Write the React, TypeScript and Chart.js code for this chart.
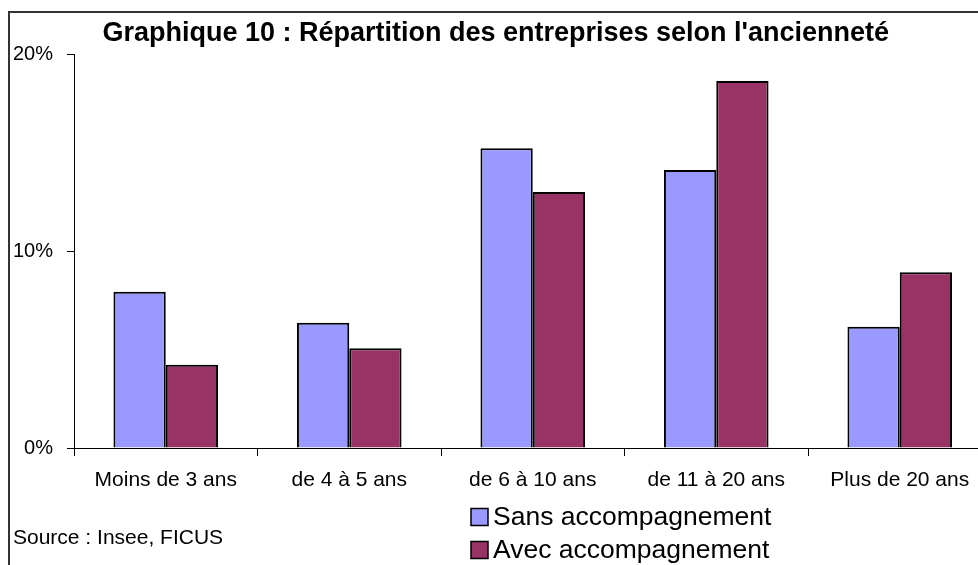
import React, { useEffect, useRef } from "react";
import { Chart, registerables } from "chart.js";

Chart.register(...registerables);

const categories = ["Moins de 3 ans", "de 4 à 5 ans", "de 6 à 10 ans", "de 11 à 20 ans", "Plus de 20 ans"];
const sansValues = [7.93, 6.36, 15.21, 14.11, 6.16];
const avecValues = [4.23, 5.06, 13.0, 18.63, 8.92];
const seriesLabels = ["Sans accompagnement", "Avec accompagnement"];
const seriesColors = ["#9999FF", "#993366"];
const yTickValues = [0, 10, 20];
const titleText = "Graphique 10 : Répartition des entreprises selon l'ancienneté";
const sourceText = "Source : Insee, FICUS";

const FONT = "'Liberation Sans', Arial, sans-serif";

const framePlugin = {
  id: "frameAndLegend",
  afterDraw(chart: any) {
    const ctx = chart.ctx;
    ctx.save();
    ctx.strokeStyle = "#333";
    ctx.lineWidth = 2;
    ctx.beginPath();
    ctx.moveTo(9, 565);
    ctx.lineTo(9, 12);
    ctx.lineTo(1000, 12);
    ctx.stroke();

    const ds = chart.data.datasets;
    ctx.font = `26.5px ${FONT}`;
    ctx.textBaseline = "middle";
    ctx.textAlign = "left";
    const rows = [517, 550];
    ds.forEach((d: any, i: number) => {
      const cy = rows[i];
      ctx.fillStyle = d.backgroundColor;
      ctx.fillRect(471, cy - 8.5, 17, 17);
      ctx.strokeStyle = "#000";
      ctx.lineWidth = 1.5;
      ctx.strokeRect(471, cy - 8.5, 17, 17);
      ctx.fillStyle = "#000";
      ctx.fillText(d.label, 493, cy + 1);
    });

    ctx.font = `21px ${FONT}`;
    ctx.fillText(sourceText, 13, 538);
    ctx.restore();
  },
};

export default function App() {
  const ref = useRef<HTMLCanvasElement | null>(null);

  useEffect(() => {
    if (!ref.current) return;
    const chart = new Chart(ref.current, {
      type: "bar",
      data: {
        labels: categories,
        datasets: [
          {
            label: seriesLabels[0],
            data: sansValues,
            backgroundColor: seriesColors[0],
            borderColor: "#000",
            borderWidth: 2,
            barPercentage: 1,
            categoryPercentage: 0.57,
          },
          {
            label: seriesLabels[1],
            data: avecValues,
            backgroundColor: seriesColors[1],
            borderColor: "#000",
            borderWidth: 2,
            barPercentage: 1,
            categoryPercentage: 0.57,
          },
        ],
      },
      options: {
        animation: false,
        responsive: false,
        maintainAspectRatio: false,
        layout: { padding: { left: 0, right: 8.5, top: 0, bottom: 0 } },
        plugins: {
          legend: { display: false },
          tooltip: { enabled: false },
          title: {
            display: true,
            text: titleText,
            color: "#000",
            font: { family: FONT, size: 27, weight: "bold" },
            padding: { top: 17, bottom: 4.6 },
          },
        },
        scales: {
          x: {
            offset: true,
            border: { display: true, color: "#000", width: 1 },
            grid: {
              display: true,
              offset: true,
              drawOnChartArea: false,
              drawTicks: true,
              tickLength: 8,
              color: "#000",
            },
            ticks: {
              color: "#000",
              font: { family: FONT, size: 21 },
              padding: 12,
              maxRotation: 0,
              autoSkip: false,
            },
            afterFit(scale: any) {
              scale.height = 117;
            },
          },
          y: {
            min: 0,
            max: 20,
            border: { display: true, color: "#000", width: 1 },
            grid: {
              display: true,
              drawOnChartArea: false,
              drawTicks: true,
              tickLength: 7,
              color: "#000",
            },
            afterBuildTicks(scale: any) {
              scale.ticks = yTickValues.map((v) => ({ value: v }));
            },
            ticks: {
              color: "#000",
              font: { family: FONT, size: 20 },
              padding: 14,
              callback: (v: any) => `${v}%`,
            },
            afterFit(scale: any) {
              scale.width = 74;
            },
          },
        },
      },
      plugins: [framePlugin],
    });
    return () => chart.destroy();
  }, []);

  return (
    <div style={{ position: "absolute", left: 0, top: 0, width: 978, height: 565, overflow: "hidden", background: "#fff" }}>
      <canvas ref={ref} width={1000} height={565} style={{ display: "block", width: 1000, height: 565 }} />
    </div>
  );
}
